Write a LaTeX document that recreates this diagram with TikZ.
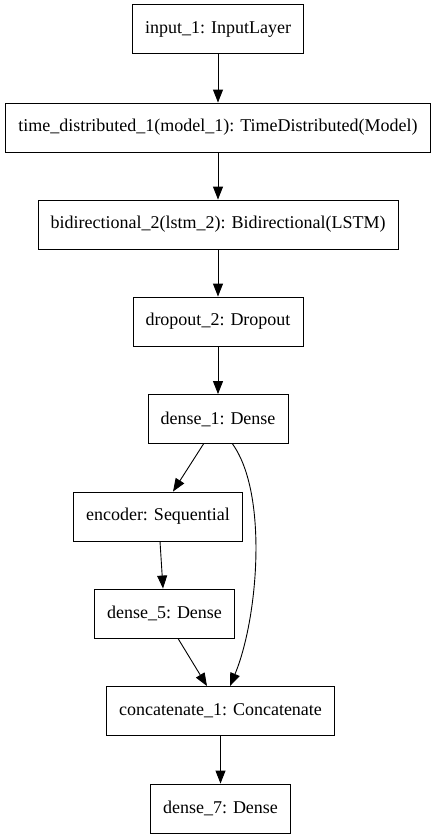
\documentclass[tikz,border=0pt]{standalone}
\usepackage{fontspec}
\setmainfont{Liberation Serif}
\usetikzlibrary{arrows.meta}

\begin{document}
\begin{tikzpicture}[x=1pt, y=-1pt,
        layer/.style={draw, rectangle, line width=0.9pt, inner xsep=12.5pt,
            minimum height=49pt, font=\fontsize{18}{21}\selectfont},
        edge/.style={line width=0.9pt, -{Triangle[length=13pt, width=10pt]}}]
        \useasboundingbox (0,0) rectangle (436,839);

        % Layers
        \node[layer] (input) at (218,29) {input\_1: InputLayer};
        \node[layer] (timedist) at (218,127.5) {time\_distributed\_1(model\_1): TimeDistributed(Model)};
        \node[layer] (bidir) at (218,224.5) {bidirectional\_2(lstm\_2): Bidirectional(LSTM)};
        \node[layer] (dropout) at (218,321.5) {dropout\_2: Dropout};
        \node[layer] (dense1) at (218,419) {dense\_1: Dense};
        \node[layer] (encoder) at (158,516.5) {encoder: Sequential};
        \node[layer] (dense5) at (164.5,613.5) {dense\_5: Dense};
        \node[layer] (concat) at (220.5,711) {concatenate\_1: Concatenate};
        \node[layer] (dense7) at (220.5,808.5) {dense\_7: Dense};

        % Connections
        \draw[edge] (input) -- (timedist);
        \draw[edge] (timedist) -- (bidir);
        \draw[edge] (bidir) -- (dropout);
        \draw[edge] (dropout) -- (dense1);
        \draw[edge] ([xshift=-14.5pt]dense1.south) -- ([xshift=15pt]encoder.north);
        \draw[edge] ([xshift=2pt]encoder.south) -- ([xshift=-1.5pt]dense5.north);
        \draw[edge] ([xshift=13.5pt]dense5.south) -- ([xshift=-13.5pt]concat.north);
        \draw[edge] ([xshift=14.5pt]dense1.south) .. controls +(36,50) and +(28,-67) .. ([xshift=9.5pt]concat.north);
        \draw[edge] (concat) -- (dense7);
    \end{tikzpicture}
\end{document}
